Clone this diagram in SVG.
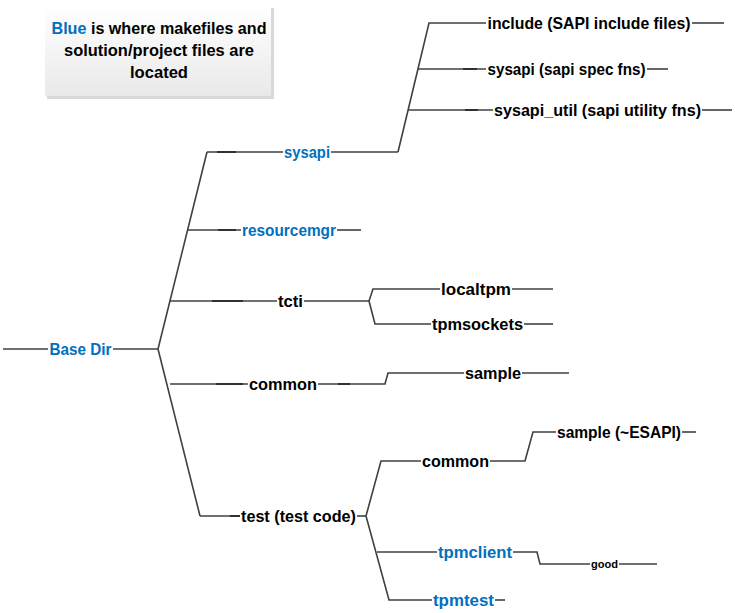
<svg xmlns="http://www.w3.org/2000/svg" width="735" height="613" viewBox="0 0 735 613">
<style>
.c line, .c polyline{stroke:#404040;stroke-width:1.6;fill:none}
.c .d{stroke:#2e2e2e;stroke-width:1.9}
text{font-family:"Liberation Sans",Arial,sans-serif;font-weight:bold;font-size:16.5px;text-anchor:middle}
.b{fill:#0070C0}
.k{fill:#000}
.s{font-size:10px}
.box{font-size:17px}
</style>
<defs>
<linearGradient id="g" x1="0" y1="0" x2="0" y2="1">
<stop offset="0" stop-color="#ffffff"/>
<stop offset="1" stop-color="#e9e9e9"/>
</linearGradient>
</defs>
<rect width="735" height="613" fill="#fff"/>
<g id="legend">
<rect x="47" y="8" width="227" height="91" fill="#d9d9d9"/>
<rect x="45" y="6" width="226" height="90" fill="url(#g)"/>
<text class="box k" x="159" y="34" textLength="215" lengthAdjust="spacingAndGlyphs"><tspan class="b">Blue</tspan> is where makefiles and</text>
<text class="box k" x="159" y="56" textLength="190" lengthAdjust="spacingAndGlyphs">solution/project files are</text>
<text class="box k" x="159" y="78" textLength="58" lengthAdjust="spacingAndGlyphs">located</text>
</g>
<g id="connectors" class="c">
<line x1="3" y1="349" x2="48" y2="349"/>
<line x1="113" y1="349" x2="158" y2="349"/>
<polyline points="207,152 158,349 200,516"/>
<line x1="207" y1="152" x2="283" y2="152"/>
<line x1="331" y1="152" x2="398" y2="152"/>
<polyline points="398,152 429,23 486,23"/>
<line x1="692" y1="23" x2="724" y2="23"/>
<line x1="418" y1="69" x2="486" y2="69"/>
<line x1="647" y1="69" x2="668" y2="69"/>
<line x1="408" y1="110" x2="493" y2="110"/>
<line x1="702" y1="110" x2="732" y2="110"/>
<line x1="188" y1="230" x2="241" y2="230"/>
<line x1="337" y1="230" x2="361" y2="230"/>
<line x1="170" y1="301" x2="277" y2="301"/>
<line x1="304" y1="301" x2="369" y2="301"/>
<polyline points="440,289 373,289 369,301 375,324 431,324"/>
<line x1="512" y1="289" x2="553" y2="289"/>
<line x1="524" y1="324" x2="553" y2="324"/>
<line x1="170" y1="384" x2="248" y2="384"/>
<polyline points="318,384 385,384 388,373 464,373"/>
<line x1="522" y1="373" x2="569" y2="373"/>
<line x1="200" y1="516" x2="240" y2="516"/>
<line x1="357" y1="516" x2="366" y2="516"/>
<polyline points="421,461 381,461 366,516 389,600 432,600"/>
<line x1="377" y1="552" x2="437" y2="552"/>
<polyline points="490,461 525,461 533,432 556,432"/>
<line x1="682" y1="432" x2="696" y2="432"/>
<polyline points="513,552 537,552 540,564 590,564"/>
<line x1="619" y1="564" x2="657" y2="564"/>
<line x1="495" y1="600" x2="505" y2="600"/>
<line class="d" x1="217" y1="152" x2="236" y2="152"/>
<line class="d" x1="218" y1="230" x2="236" y2="230"/>
<line class="d" x1="212" y1="301" x2="243" y2="301"/>
<line class="d" x1="216" y1="384" x2="243" y2="384"/>
<line class="d" x1="338" y1="384" x2="350" y2="384"/>
<line class="d" x1="463" y1="69" x2="477" y2="69"/>
<line class="d" x1="465" y1="110" x2="478" y2="110"/>
<line class="d" x1="230" y1="516" x2="240" y2="516"/>
</g>
<g id="n-base"><text class="b" x="80.5" y="354.5" textLength="62" lengthAdjust="spacingAndGlyphs">Base Dir</text></g>
<g id="n-sysapi"><text class="b" x="307" y="157.5" textLength="46" lengthAdjust="spacingAndGlyphs">sysapi</text></g>
<g id="n-include"><text class="k" x="589" y="28.5" textLength="203" lengthAdjust="spacingAndGlyphs">include (SAPI include files)</text></g>
<g id="n-sysapi-spec"><text class="k" x="566.5" y="74.5" textLength="158" lengthAdjust="spacingAndGlyphs">sysapi (sapi spec fns)</text></g>
<g id="n-sysapi-util"><text class="k" x="597.5" y="115.5" textLength="207" lengthAdjust="spacingAndGlyphs">sysapi_util (sapi utility fns)</text></g>
<g id="n-resourcemgr"><text class="b" x="289" y="235.5" textLength="94" lengthAdjust="spacingAndGlyphs">resourcemgr</text></g>
<g id="n-tcti"><text class="k" x="290.5" y="306.5" textLength="25" lengthAdjust="spacingAndGlyphs">tcti</text></g>
<g id="n-localtpm"><text class="k" x="476" y="294.5" textLength="70" lengthAdjust="spacingAndGlyphs">localtpm</text></g>
<g id="n-tpmsockets"><text class="k" x="477.5" y="329.5" textLength="91" lengthAdjust="spacingAndGlyphs">tpmsockets</text></g>
<g id="n-common"><text class="k" x="283" y="389.5" textLength="68" lengthAdjust="spacingAndGlyphs">common</text></g>
<g id="n-sample"><text class="k" x="493" y="378.5" textLength="56" lengthAdjust="spacingAndGlyphs">sample</text></g>
<g id="n-test"><text class="k" x="298.5" y="521.5" textLength="115" lengthAdjust="spacingAndGlyphs">test (test code)</text></g>
<g id="n-test-common"><text class="k" x="455.5" y="466.5" textLength="67" lengthAdjust="spacingAndGlyphs">common</text></g>
<g id="n-sample-esapi"><text class="k" x="619" y="437.5" textLength="124" lengthAdjust="spacingAndGlyphs">sample (~ESAPI)</text></g>
<g id="n-tpmclient"><text class="b" x="475" y="557.5" textLength="74" lengthAdjust="spacingAndGlyphs">tpmclient</text></g>
<g id="n-good"><text class="k s" x="604.5" y="567.5" textLength="27" lengthAdjust="spacingAndGlyphs">good</text></g>
<g id="n-tpmtest"><text class="b" x="463.5" y="605.5" textLength="61" lengthAdjust="spacingAndGlyphs">tpmtest</text></g>
</svg>
